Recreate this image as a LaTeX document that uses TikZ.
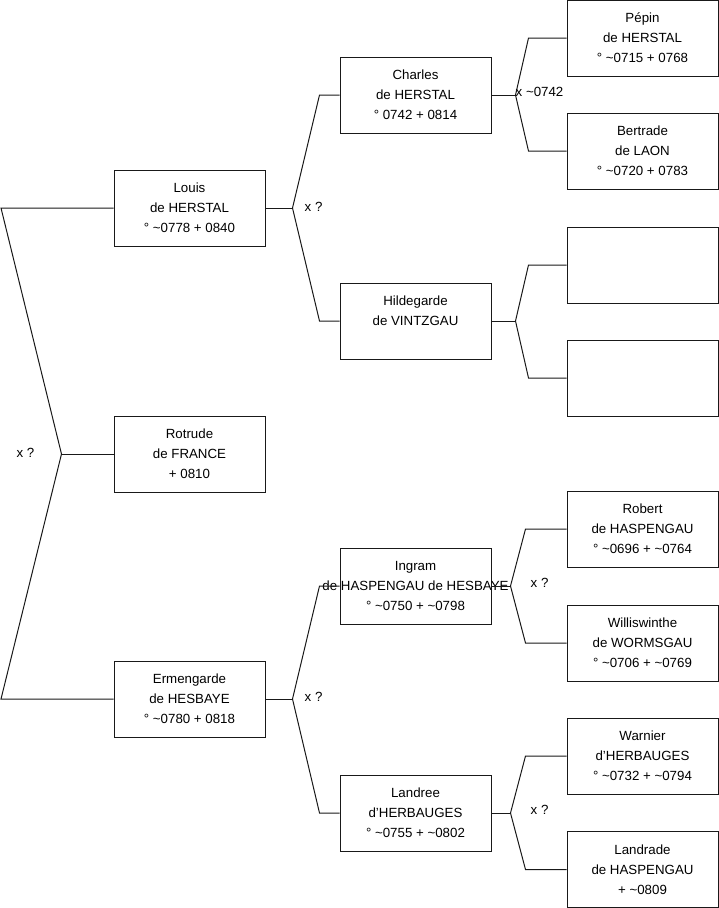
\documentclass[tikz,border=0pt]{standalone}
\usepackage{fontspec}
\setmainfont{Liberation Sans}
\usetikzlibrary{positioning,calc}
\newcommand{\treefont}{\fontsize{13.3}{20}\selectfont}

\begin{document}
\begin{tikzpicture}[
    person/.style={rectangle, draw=black!90, line width=1pt, fill=white, minimum width=151pt, minimum height=76pt, align=center, inner sep=0pt, font=\treefont},
    spouse/.style={inner sep=0pt, font=\treefont},
    line/.style={draw=black!90, line width=1pt}
]
\useasboundingbox (0,0) rectangle (719pt,-908pt);

% first generation
\node [person] (louis) at (189.5pt,-208pt) {Louis\\de HERSTAL\\° \textasciitilde0778 + 0840};
\node [person, below of=louis, node distance=246pt] (rotrude) {Rotrude\\de FRANCE\\ + 0810};
\node [person, below of=rotrude, node distance=245pt] (ermengarde) {Ermengarde\\de HESBAYE\\° \textasciitilde0780 + 0818};

% parents
\node [person, right of=louis, node distance=226pt, yshift=113pt] (charles) {Charles\\de HERSTAL\\° 0742 + 0814};
\node [person, below of=charles, node distance=226pt] (hildegarde) {Hildegarde\\de VINTZGAU\\\mbox{}};
\node [person, right of=ermengarde, node distance=226pt, yshift=113pt] (ingram) {Ingram\\\makebox[0pt]{de HASPENGAU de HESBAYE}\\° \textasciitilde0750 + \textasciitilde0798};
\node [person, below of=ingram, node distance=227pt] (landree) {Landree\\d'HERBAUGES\\° \textasciitilde0755 + \textasciitilde0802};

% grandparents
\node [person, right of=charles, node distance=227pt, yshift=57pt] (pepin) {Pépin\\de HERSTAL\\° \textasciitilde0715 + 0768};
\node [person, below of=pepin, node distance=113pt] (bertrade) {Bertrade\\de LAON\\° \textasciitilde0720 + 0783};
\node [person, right of=hildegarde, node distance=227pt, yshift=56pt] (unknownA) {};
\node [person, below of=unknownA, node distance=113pt] (unknownB) {};
\node [person, right of=ingram, node distance=227pt, yshift=57pt] (robert) {Robert\\de HASPENGAU\\° \textasciitilde0696 + \textasciitilde0764};
\node [person, below of=robert, node distance=114pt] (williswinthe) {Williswinthe\\de WORMSGAU\\° \textasciitilde0706 + \textasciitilde0769};
\node [person, right of=landree, node distance=227pt, yshift=57pt] (warnier) {Warnier\\d'HERBAUGES\\° \textasciitilde0732 + \textasciitilde0794};
\node [person, below of=warnier, node distance=113.5pt] (landrade) {Landrade\\de HASPENGAU\\+ \textasciitilde0809};

% couples
\coordinate (edge) at (1pt,0);
\coordinate (xRoot) at ($(rotrude.west)+(-52pt,0)$);
\coordinate (xLouis) at ($(louis.east)+(27pt,0)$);
\coordinate (xErmengarde) at ($(ermengarde.east)+(27pt,0)$);
\coordinate (xCharles) at ($(charles.east)+(24pt,0)$);
\coordinate (xHildegarde) at ($(hildegarde.east)+(24pt,0)$);
\coordinate (xIngram) at ($(ingram.east)+(19pt,0)$);
\coordinate (xLandree) at ($(landree.east)+(19pt,0)$);

\path [line] (louis.west) -- (louis.west -| edge) -- (xRoot) -- (ermengarde.west -| edge) -- (ermengarde.west);
\path [line] (xRoot) -- (rotrude.west);
\node [spouse, left=27pt of xRoot, yshift=1pt] (mRoot) {x ?};

\path [line] (louis.east) -- (xLouis);
\path [line] (charles.west) -- ++(-20pt,0) -- (xLouis) -- ($(hildegarde.west)+(-20pt,0)$) -- (hildegarde.west);
\node [spouse, right=12pt of xLouis, yshift=1pt] (mLouis) {x ?};

\path [line] (ermengarde.east) -- (xErmengarde);
\path [line] (ingram.west) -- ++(-20pt,0) -- (xErmengarde) -- ($(landree.west)+(-20pt,0)$) -- (landree.west);
\node [spouse, right=12pt of xErmengarde, yshift=2pt] (mErmengarde) {x ?};

\path [line] (charles.east) -- (xCharles);
\path [line] (pepin.west) -- ++(-38pt,0) -- (xCharles) -- ($(bertrade.west)+(-38pt,0)$) -- (bertrade.west);
\node [spouse, right=0pt of xCharles, yshift=3pt] (mCharles) {x \textasciitilde0742};

\path [line] (hildegarde.east) -- (xHildegarde);
\path [line] (unknownA.west) -- ++(-38pt,0) -- (xHildegarde) -- ($(unknownB.west)+(-38pt,0)$) -- (unknownB.west);

\path [line] (ingram.east) -- (xIngram);
\path [line] (robert.west) -- ++(-41pt,0) -- (xIngram) -- ($(williswinthe.west)+(-41pt,0)$) -- (williswinthe.west);
\node [spouse, right=20pt of xIngram, yshift=3pt] (mIngram) {x ?};

\path [line] (landree.east) -- (xLandree);
\path [line] (warnier.west) -- ++(-41pt,0) -- (xLandree) -- ($(landrade.west)+(-41pt,0)$) -- (landrade.west);
\node [spouse, right=20pt of xLandree, yshift=3pt] (mLandree) {x ?};

\end{tikzpicture}
\end{document}
